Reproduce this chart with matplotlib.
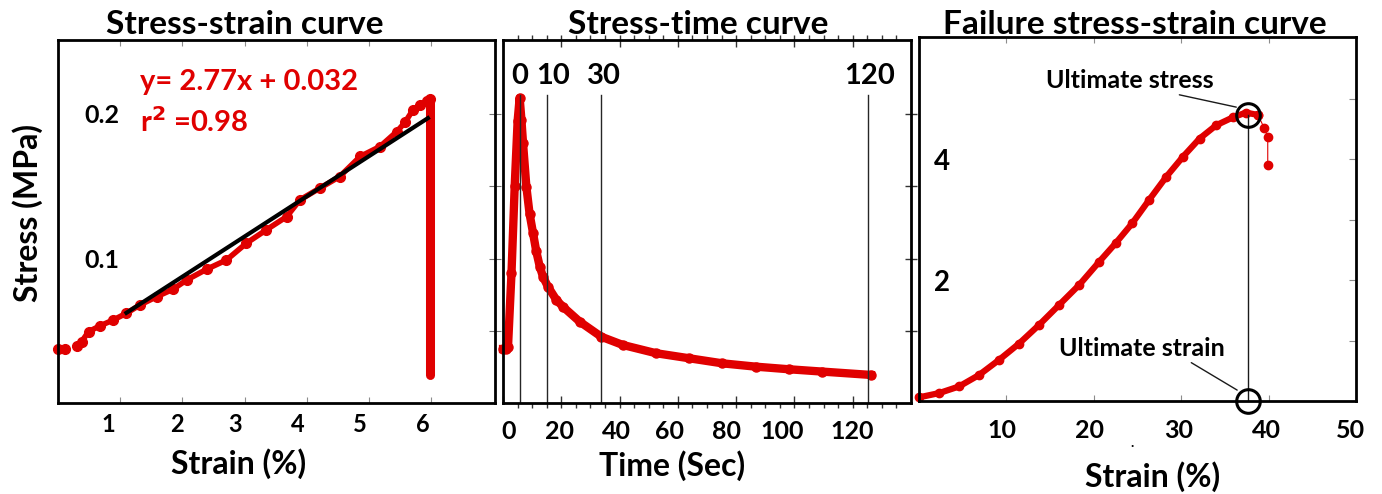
import matplotlib
matplotlib.use('Agg')
import matplotlib.pyplot as plt
import matplotlib.transforms as mtransforms

plt.rcParams['font.family'] = ['Lato', 'DejaVu Sans']
plt.rcParams['font.weight'] = 'bold'
plt.rcParams['axes.titleweight'] = 'bold'
plt.rcParams['axes.labelweight'] = 'bold'

RED = '#e00000'

# Panel 1: stress-strain curve (strain in %, stress in MPa)
ss_strain_start = [0.0, 0.11]
ss_stress_start = [0.0375, 0.0375]
ss_strain = [0.30, 0.38, 0.49, 0.675, 0.89, 1.10, 1.32, 1.59, 1.85, 2.07,
             2.39, 2.71, 3.03, 3.35, 3.68, 3.89, 4.21, 4.53, 4.86, 5.18,
             5.45, 5.58, 5.71, 5.82, 5.93, 5.99]
ss_stress = [0.0396, 0.0426, 0.0495, 0.0535, 0.0576, 0.0622, 0.068, 0.0737,
             0.0788, 0.0852, 0.0926, 0.099, 0.1106, 0.1198, 0.129, 0.1405,
             0.1486, 0.1566, 0.1705, 0.1774, 0.1877, 0.194, 0.2027, 0.2062,
             0.2085, 0.2101]
drop_strain = [5.99, 5.99]
drop_stress = [0.2101, 0.0196]
fit_strain = [1.1, 5.95]
fit_stress = [0.0625, 0.197]

# Panel 2: stress relaxation (time in s, stress in MPa)
st_time = [0.0, 1.0, 1.7, 2.9, 4.0, 5.0, 5.7, 6.3, 6.85, 8.0, 9.1, 10.3,
           11.4, 12.6, 13.7, 15.4, 18.3, 20.5, 26.3, 33.7, 41.1, 52.5, 63.9,
           75.3, 86.8, 98.2, 109.6, 126.2]
st_stress = [0.0375, 0.0375, 0.039, 0.09, 0.15, 0.195, 0.211, 0.196, 0.18,
             0.1497, 0.131, 0.1175, 0.105, 0.0944, 0.0875, 0.0806, 0.0714,
             0.0668, 0.0564, 0.046, 0.0403, 0.0346, 0.0311, 0.0276, 0.0253,
             0.0235, 0.0219, 0.0196]
mark_times = [5.7, 15.2, 33.7, 125.2]
mark_labels = ['0', '10', '30', '120']

# Panel 3: failure stress-strain curve
fail_strain = [0.0, 2.29, 4.58, 6.87, 9.16, 11.45, 13.75, 16.04, 18.33, 20.6,
               22.5, 24.4, 26.3, 28.3, 30.2, 32.1, 34.0, 35.9, 37.4, 38.8]
fail_stress = [0.06, 0.13, 0.24, 0.43, 0.68, 0.95, 1.26, 1.59, 1.92, 2.30,
               2.61, 2.94, 3.32, 3.71, 4.04, 4.34, 4.56, 4.69, 4.77, 4.73]
tail_strain = [38.8, 39.5, 39.9, 39.9]
tail_stress = [4.73, 4.51, 4.37, 3.90]
ult_strain = 37.6
ult_stress = 4.73

fig = plt.figure(figsize=(13.82, 4.94), dpi=100)
ax1 = fig.add_axes([0.0420, 0.1836, 0.3162, 0.7355])
ax2 = fig.add_axes([0.3640, 0.1836, 0.2952, 0.7355])
ax3 = fig.add_axes([0.6650, 0.1883, 0.3162, 0.7368])


def shift_labels(ax, shifts):
    # nudge each x tick label sideways by a few pixels, as in the original
    for lab, dx in zip(ax.get_xticklabels(), shifts):
        off = mtransforms.ScaledTranslation(dx / 100.0, 0, fig.dpi_scale_trans)
        lab.set_transform(lab.get_transform() + off)
        lab.set_fontweight('bold')


for ax in (ax1, ax2, ax3):
    for sp in ax.spines.values():
        sp.set_linewidth(2.0)

# ---- panel 1
ax1.plot(ss_strain_start, ss_stress_start, 'o', color=RED, ms=7, clip_on=False)
ax1.plot(ss_strain, ss_stress, '-o', color=RED, lw=4, ms=7, clip_on=False)
ax1.plot(drop_strain, drop_stress, '-', color=RED, lw=6.5, solid_capstyle='round')
ax1.plot(fit_strain, fit_stress, '-', color='black', lw=3)
ax1.set_xlim(0, 7.03)
ax1.set_ylim(0, 0.251)
ax1.set_xticks([1, 2, 3, 4, 5, 6])
ax1.set_yticks([0.1, 0.2])
ax1.set_yticklabels(['0.1', '0.2'], fontweight='bold')
ax1.set_yticks([0.05, 0.15], minor=True)
ax1.tick_params(axis='x', direction='in', top=True, bottom=True, length=4,
                width=0.8, color='0.55', labelsize=17, pad=7)
ax1.tick_params(axis='y', which='both', direction='inout', left=False, right=True,
                length=8, width=0.8, color='0.45', labelsize=18, pad=-48)
shift_labels(ax1, [-12, -5, -9, -9, -9, -8])
ax1.text(0.188, 0.885, 'y= 2.77x + 0.032', transform=ax1.transAxes, color=RED,
         fontsize=21, va='center', ha='left')
ax1.text(0.188, 0.775, 'r$^2$ =0.98', transform=ax1.transAxes, color=RED,
         fontsize=21, va='center', ha='left')
ax1.set_title('Stress-strain curve', fontsize=24, x=0.428, pad=4)
ax1.set_xlabel('Strain (%)', fontsize=23)
ax1.xaxis.set_label_coords(0.412, -0.125)
ax1.set_ylabel('Stress (MPa)', fontsize=23)
ax1.yaxis.set_label_coords(-0.035, 0.525)

# ---- panel 2
ax2.plot(st_time, st_stress, '-o', color=RED, lw=6, ms=6.5, clip_on=False)
for t, lab, dx in zip(mark_times, mark_labels, [0, 4, 2, 1]):
    ax2.plot([t, t], [0, 0.213], color='0.15', lw=1.0)
    ax2.annotate(lab, (t, 0.226), xytext=(dx, 0), textcoords='offset points',
                 ha='center', va='center', fontsize=21)
ax2.set_xlim(0, 140)
ax2.set_ylim(0, 0.251)
ax2.set_xticks([0, 20, 40, 60, 80, 100, 120])
ax2.set_xticks(list(range(5, 140, 5)), minor=True)
ax2.xaxis.remove_overlapping_locs = False
ax2.tick_params(axis='x', which='major', direction='in', top=True, bottom=True,
                length=5, width=1.0, color='0.2', labelsize=18, pad=12)
ax2.tick_params(axis='x', which='minor', direction='out', top=True, bottom=True,
                length=3.5, width=1.0, color='0.2')
ax2.set_yticks([0.05, 0.1, 0.15, 0.2])
ax2.tick_params(axis='y', direction='inout', left=False, right=True, length=8,
                width=1.0, color='0.2', labelleft=False)
shift_labels(ax2, [6, -2, -3, -8, -10, -12, -1])
ax2.set_title('Stress-time curve', fontsize=24, x=0.478, pad=4)
ax2.set_xlabel('Time (Sec)', fontsize=23)
ax2.xaxis.set_label_coords(0.414, -0.13)

# ---- panel 3
ax3.plot(fail_strain, fail_stress, '-o', color=RED, lw=4.5, ms=6, clip_on=False)
ax3.plot(tail_strain, tail_stress, '-o', color=RED, lw=0.8, ms=6, clip_on=False)
ax3.plot([ult_strain, ult_strain], [0, ult_stress], color='0.1', lw=1.0)
ax3.plot([ult_strain, ult_strain], [ult_stress, 0], 'o', ms=17, mfc='none',
         mec='black', mew=2.2, clip_on=False)
ax3.annotate('Ultimate stress', xy=(36.3, 4.86), xytext=(24.1, 5.3),
             ha='center', va='center', fontsize=18, fontweight='bold',
             arrowprops=dict(arrowstyle='-', color='0.1', lw=1.0,
                             shrinkA=0, shrinkB=0, relpos=(0.72, 0.0)))
ax3.annotate('Ultimate strain', xy=(36.4, 0.18), xytext=(25.5, 0.87),
             ha='center', va='center', fontsize=18, fontweight='bold',
             arrowprops=dict(arrowstyle='-', color='0.1', lw=1.0,
                             shrinkA=0, shrinkB=0, relpos=(0.77, 0.0)))
ax3.set_xlim(0, 50)
ax3.set_ylim(0, 6.02)
ax3.set_xticks([10, 20, 30, 40, 50])
ax3.set_yticks([2, 4])
ax3.set_yticklabels(['2', '4'], fontweight='bold')
ax3.set_yticks([1, 3, 5], minor=True)
ax3.tick_params(axis='x', direction='in', top=True, bottom=True, length=4,
                width=0.8, color='0.55', labelsize=18, pad=13)
ax3.tick_params(axis='y', which='both', direction='in', left=False, right=True,
                length=5, width=0.8, color='0.55', labelsize=20, pad=-22)
shift_labels(ax3, [-5, -4, -3, -2, -6])
ax3.set_title('Failure stress-strain curve', fontsize=24, x=0.494, pad=2)
ax3.set_xlabel('Strain (%)', fontsize=23)
ax3.xaxis.set_label_coords(0.535, -0.165)
fig.text(1132 / 1382, 1 - 443 / 494, '.', fontsize=10, ha='center', va='center')

fig.savefig('out.png', dpi=100)
